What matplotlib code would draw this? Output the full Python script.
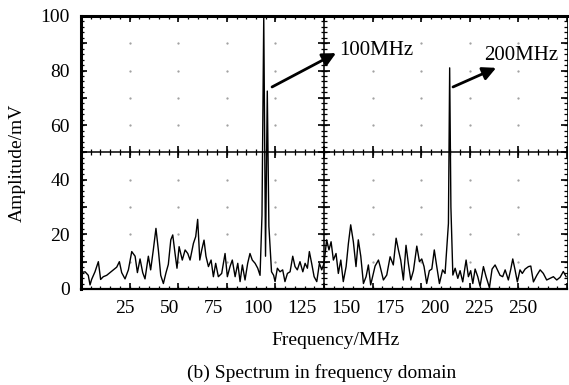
# Spectrum in frequency domain - oscilloscope style plot
import matplotlib.pyplot as plt
from matplotlib.ticker import FixedLocator, NullLocator

plt.rcParams['font.family'] = ['Liberation Serif', 'DejaVu Serif']

# ── Data ──────────────────────────────────────────────────────────────────────
freq_mhz = [
    0.0, 2.3, 4.1, 5.1, 6.0, 7.9, 9.8, 11.1, 12.6, 14.5, 16.4, 18.3, 20.2, 21.7,
    23.0, 24.9, 26.8, 28.7, 30.6, 31.9, 33.4, 34.9, 36.2, 38.1, 39.4, 40.9, 42.4,
    43.8, 45.1, 46.6, 48.1, 49.4, 50.8, 51.9, 53.2, 54.3, 55.5, 57.3, 58.9, 60.4,
    61.7, 63.6, 64.9, 66.0, 67.2, 68.3, 69.6, 70.7, 72.1, 73.6, 74.9, 76.2, 77.7,
    79.6, 81.5, 82.8, 84.3, 85.6, 87.2, 88.7, 90.0, 91.3, 92.8, 94.3, 95.6, 96.9,
    98.5, 100.0, 101.3, 102.4, 103.4, 104.4, 105.4, 106.3, 107.8, 109.0, 109.8,
    111.1, 112.6, 114.1, 115.4, 116.8, 118.3, 119.8, 121.1, 122.4, 123.9, 125.5,
    126.8, 128.1, 129.2, 130.5, 131.9, 133.4, 134.9, 136.2, 137.5, 139.0, 140.3,
    141.5, 142.8, 144.3, 145.6, 147.0, 148.4, 150.0, 151.3, 152.6, 154.1, 155.6,
    156.9, 158.3, 159.8, 161.3, 162.6, 163.9, 166.4, 168.3, 169.2, 171.1, 173.0,
    174.9, 176.7, 178.3, 179.6, 180.9, 182.4, 183.9, 185.2, 186.6, 188.1, 190.0,
    191.5, 192.8, 194.1, 195.6, 197.1, 198.5, 199.9, 201.3, 202.8, 204.6, 206.0,
    207.9, 208.6, 209.3, 210.4, 211.7, 213.2, 214.5, 216.0, 217.9, 219.2, 220.5,
    221.7, 223.0, 224.5, 225.8, 227.7, 229.2, 231.1, 232.6, 234.3, 235.6, 237.1,
    238.6, 240.0, 241.8, 243.2, 244.3, 245.6, 246.9, 248.4, 249.7, 251.3, 253.2,
    254.5, 256.0, 257.9, 259.8, 261.6, 263.5, 265.4, 267.3, 269.2, 271.1, 272.9,
    274.5,
]
amp_mv = [
    6.0, 6.3, 5.0, 1.5, 3.5, 6.3, 10.0, 3.5, 4.5, 5.0, 6.0, 7.0, 8.0, 10.0,
    6.0, 3.7, 7.0, 13.7, 12.0, 6.0, 11.0, 6.0, 3.7, 12.0, 7.0, 14.3, 22.2,
    14.0, 5.0, 2.0, 6.0, 9.0, 18.0, 19.8, 13.0, 7.6, 15.5, 10.6, 14.3, 13.0,
    10.6, 16.7, 19.2, 25.5, 10.6, 14.3, 17.9, 12.0, 8.2, 10.6, 4.5, 9.4, 4.5,
    5.7, 13.0, 4.5, 8.2, 10.6, 4.5, 9.4, 2.7, 8.8, 3.3, 9.4, 13.0, 10.6,
    9.4, 7.6, 5.0, 27.0, 100.0, 12.0, 72.5, 23.0, 6.3, 5.0, 2.7,
    7.6, 6.3, 7.0, 2.7, 5.7, 6.3, 12.0, 8.2, 7.0, 10.0, 6.3,
    9.4, 7.6, 13.7, 9.4, 4.5, 2.7, 9.4, 7.0, 9.4, 18.0, 14.3,
    17.3, 10.6, 13.0, 5.7, 10.6, 2.7, 8.2, 16.7, 23.5, 17.3, 8.2,
    18.0, 12.0, 2.0, 4.5, 8.8, 1.5, 8.4, 10.6, 8.4, 3.3, 5.1,
    11.8, 8.8, 18.6, 14.3, 10.6, 3.3, 16.0, 9.4, 3.3, 6.7, 15.7,
    10.0, 11.0, 8.2, 2.0, 6.7, 7.3, 14.3, 8.2, 2.0, 7.0, 5.7,
    24.0, 81.0, 30.0, 5.1, 7.6, 3.9, 6.7, 2.6, 10.6, 4.5, 6.7,
    2.0, 7.3, 4.5, 1.0, 8.2, 4.5, 0.5, 7.3, 8.8, 7.0, 5.0,
    4.5, 7.0, 3.3, 7.3, 11.0, 7.0, 2.6, 7.0, 5.7, 7.3, 8.2,
    8.4, 2.6, 5.0, 7.0, 5.7, 3.3, 3.9, 4.5, 3.3, 4.3, 6.4,
    4.5,
]

x_ticks = [25, 50, 75, 100, 125, 150, 175, 200, 225, 250]
y_ticks = [0, 20, 40, 60, 80, 100]

F_MAX = 275.0      # full horizontal span (10 divisions)
A_MAX = 100.0      # full vertical span (10 divisions)
N_DIV = 10
N_SUB = 5

# ── Figure ────────────────────────────────────────────────────────────────────
fig = plt.figure(figsize=(5.69, 3.85), dpi=100)
ax = fig.add_axes([0.1424, 0.2494, 0.8541, 0.7091])
ax.set_xlim(0, F_MAX)
ax.set_ylim(0, A_MAX)

# graticule: dots on division intersections
dx = F_MAX / N_DIV
dy = A_MAX / N_DIV
for i in range(1, N_DIV):
    for j in range(1, N_DIV):
        if i == N_DIV // 2 or j == N_DIV // 2:
            continue
        ax.plot(i * dx, j * dy, marker='.', ms=1.2, color='#9a9a9a', zorder=1)

# center cross lines
ax.axhline(A_MAX / 2, color='k', lw=1.1, zorder=2)
ax.axvline(F_MAX / 2, color='k', lw=1.1, zorder=2)

# small ticks along horizontal lines (top, centre, bottom)
sub_x = [k * dx / N_SUB for k in range(N_DIV * N_SUB + 1)]
div_x = [k * dx for k in range(N_DIV + 1)]
for yy in (0, A_MAX / 2, A_MAX):
    ax.plot(sub_x, [yy] * len(sub_x), ls='none', marker='|', ms=5, mew=0.9,
            color='k', zorder=3)
    ax.plot(div_x, [yy] * len(div_x), ls='none', marker='|', ms=9, mew=1.2,
            color='k', zorder=3)

# small ticks along vertical lines (left, centre, right)
sub_y = [k * dy / N_SUB for k in range(N_DIV * N_SUB + 1)]
div_y = [k * dy for k in range(N_DIV + 1)]
for xx in (0, F_MAX / 2, F_MAX):
    ax.plot([xx] * len(sub_y), sub_y, ls='none', marker='_', ms=5, mew=0.9,
            color='k', zorder=3)
    ax.plot([xx] * len(div_y), div_y, ls='none', marker='_', ms=9, mew=1.2,
            color='k', zorder=3)

# spectrum trace
ax.plot(freq_mhz, amp_mv, color='k', lw=1.0, zorder=4)

# annotations
ax.annotate('', xy=(144.3, 86.4), xytext=(108.1, 74.0),
            arrowprops=dict(arrowstyle='-|>', lw=2.0, color='k', mutation_scale=20,
                            shrinkA=0, shrinkB=0), zorder=5)
ax.text(146.0, 87.5, '100MHz', fontsize=15, va='center', ha='left', zorder=5)
ax.annotate('', xy=(234.9, 81.0), xytext=(210.5, 74.0),
            arrowprops=dict(arrowstyle='-|>', lw=2.0, color='k', mutation_scale=20,
                            shrinkA=0, shrinkB=0), zorder=5)
ax.text(228.0, 85.7, '200MHz', fontsize=15, va='center', ha='left', zorder=5)

# ── Axes styling ──────────────────────────────────────────────────────────────
for side in ('top', 'left'):
    ax.spines[side].set_linewidth(2.2)
ax.spines['bottom'].set_linewidth(1.6)
ax.spines['right'].set_linewidth(0.6)

ax.xaxis.set_major_locator(FixedLocator(x_ticks))
ax.yaxis.set_major_locator(FixedLocator(y_ticks))
ax.xaxis.set_minor_locator(NullLocator())
ax.yaxis.set_minor_locator(NullLocator())
ax.tick_params(axis='both', length=0, labelsize=14)
ax.tick_params(axis='x', pad=8)
ax.tick_params(axis='y', pad=8)

fig.text(0.030, 0.577, 'Amplitude/mV', rotation=90, fontsize=14,
         ha='center', va='center')
fig.text(0.5905, 0.1039, 'Frequency/MHz', fontsize=14, ha='center', va='baseline')
fig.text(0.565, 0.0182, '(b) Spectrum in frequency domain', fontsize=14,
         ha='center', va='baseline')

fig.savefig('out.png', dpi=100)
